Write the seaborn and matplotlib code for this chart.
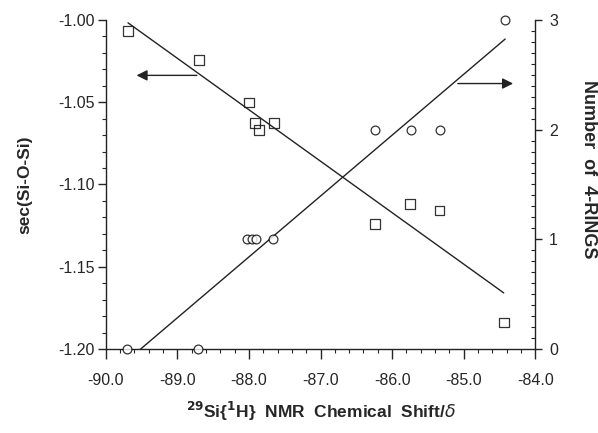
import numpy as np
import pandas as pd
import matplotlib
matplotlib.use("Agg")
import matplotlib.pyplot as plt
import seaborn as sns
from matplotlib.ticker import MultipleLocator, FormatStrFormatter

# Data
shift_sec = [-89.69, -88.70, -88.00, -87.92, -87.86, -87.65, -86.24, -85.75, -85.34, -84.44]
sec_vals = [-1.0067, -1.0244, -1.0502, -1.0625, -1.0670, -1.0625, -1.1240, -1.1118, -1.1159, -1.1840]
shift_rings = [-89.71, -88.71, -88.03, -87.96, -87.90, -87.67, -86.24, -85.73, -85.33, -84.42]
rings_vals = [0, 0, 1, 1, 1, 1, 2, 2, 2, 3]

sns.set_style("ticks")
plt.rcParams['font.family'] = ['Liberation Sans', 'DejaVu Sans']
plt.rcParams['axes.unicode_minus'] = False

df_sec = pd.DataFrame({"shift": shift_sec, "sec": sec_vals})
df_rings = pd.DataFrame({"shift": shift_rings, "rings": rings_vals})

fig = plt.figure(figsize=(5.98, 4.33), dpi=100)
ax = fig.add_axes([0.177, 0.194, 0.718, 0.760])
ax2 = ax.twinx()

sns.regplot(data=df_sec, x="shift", y="sec", ax=ax, ci=None, marker="s",
            scatter_kws=dict(facecolors="none", edgecolors="black", s=48, linewidths=0.9, clip_on=False),
            line_kws=dict(color="#222222", lw=1.0))
sns.regplot(data=df_rings, x="shift", y="rings", ax=ax2, ci=None, marker="o",
            scatter_kws=dict(facecolors="white", edgecolors="black", s=40, linewidths=0.9, clip_on=False, zorder=5),
            line_kws=dict(color="#222222", lw=1.0))

ax.set_xlim(-90, -84)
ax.set_ylim(-1.20, -1.00)
ax2.set_ylim(0, 3)

ax.xaxis.set_major_locator(MultipleLocator(1.0))
ax.xaxis.set_minor_locator(MultipleLocator(0.2))
ax.xaxis.set_major_formatter(FormatStrFormatter('%.1f'))
ax.yaxis.set_major_locator(MultipleLocator(0.05))
ax.yaxis.set_minor_locator(MultipleLocator(0.01))
ax.yaxis.set_major_formatter(FormatStrFormatter('%.2f'))
ax2.yaxis.set_major_locator(MultipleLocator(1))
ax2.yaxis.set_minor_locator(MultipleLocator(0.1))
ax2.yaxis.set_major_formatter(FormatStrFormatter('%d'))

for a in (ax, ax2):
    a.spines['top'].set_visible(False)
    for s in a.spines.values():
        s.set_linewidth(1.0)
        s.set_color('#222222')
ax.spines['right'].set_visible(False)
ax2.spines['left'].set_visible(False)
ax2.spines['bottom'].set_visible(False)

ax.tick_params(axis='x', which='major', direction='out', length=7, width=1, pad=10, labelsize=11.5)
ax.tick_params(axis='x', which='minor', direction='out', length=3, width=0.8)
ax.tick_params(axis='y', which='major', direction='out', length=6, width=1, pad=2, labelsize=11.5)
ax.tick_params(axis='y', which='minor', direction='out', length=3, width=0.8)
ax2.tick_params(axis='y', which='major', direction='out', length=5, width=1, pad=5, labelsize=11.5)
ax2.tick_params(axis='y', which='minor', direction='in', length=3, width=0.8)

ax.set_xlabel(r"$^{\mathbf{29}}$Si{$^{\mathbf{1}}$H}  NMR  Chemical  Shift/$\delta$",
              fontsize=12.5, fontweight='bold')
ax.xaxis.set_label_coords(0.5, -0.155)
ax.set_ylabel("sec(Si-O-Si)", fontsize=12.5, fontweight='bold', va='center')
ax.yaxis.set_label_coords(-0.189, 0.5)
ax2.set_ylabel("Number  of  4-RINGS", fontsize=13, fontweight='bold', rotation=270, va='center')
ax2.yaxis.set_label_coords(1.124, 0.547)

ax.annotate("", xy=(-89.61, -1.0337), xytext=(-88.69, -1.0337),
            arrowprops=dict(arrowstyle='-|>', color='#222222', lw=1.0, mutation_scale=16))
ax2.annotate("", xy=(-84.27, 2.42), xytext=(-85.12, 2.42),
             arrowprops=dict(arrowstyle='-|>', color='#222222', lw=1.0, mutation_scale=16))

fig.savefig("out.png", dpi=100)
